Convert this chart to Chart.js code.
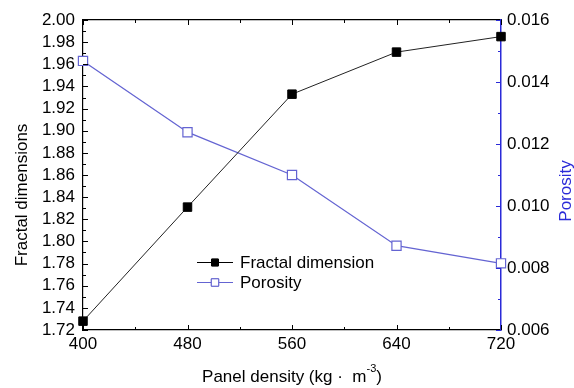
<!DOCTYPE html>
<html>
<head>
<meta charset="utf-8">
<script src="https://cdn.jsdelivr.net/npm/chart.js@4/dist/chart.umd.min.js"></script>
<style>
html,body{margin:0;padding:0;background:#fff;}
#wrap{width:574px;height:388px;}
</style>
</head>
<body>
<div id="wrap"><canvas id="c" width="574" height="388"></canvas></div>
<script>
const densities = [400, 480, 560, 640, 720];
const fractalDim = [1.728, 1.831, 1.933, 1.971, 1.985];
const porosity = [0.01468, 0.01238, 0.0110, 0.00872, 0.00815];
const xTickValues = [400, 480, 560, 640, 720];
const leftTickValues = [1.72, 1.74, 1.76, 1.78, 1.80, 1.82, 1.84, 1.86, 1.88, 1.90, 1.92, 1.94, 1.96, 1.98, 2.00];
const rightTickValues = [0.006, 0.008, 0.010, 0.012, 0.014, 0.016];
const seriesNames = ['Fractal dimension', 'Porosity'];
const axisTitles = { x: 'Panel density (kg \u00b7  m', xSup: '-3', xEnd: ')', left: 'Fractal dimensions', right: 'Porosity' };

const FONT = '"Liberation Sans", Arial, sans-serif';
const FS = 17;
const BLACK = '#000000';
const AXIS_BLUE = '#2a2ad8';
const LINE_BLUE = '#6464d2';

const minorTicks = (vals) => {
  const out = [];
  for (let i = 0; i < vals.length - 1; i++) out.push((vals[i] + vals[i + 1]) / 2);
  return out;
};

const decorPlugin = {
  id: 'decor',
  afterDraw(chart) {
    const ctx = chart.ctx;
    const ca = chart.chartArea;
    const sx = chart.scales.x, sy = chart.scales.y, sy1 = chart.scales.y1;
    ctx.save();
    ctx.lineWidth = 1;
    const drawX = (vals, len) => {
      vals.forEach(v => {
        const px = Math.round(sx.getPixelForValue(v)) + 0.5;
        ctx.strokeStyle = BLACK;
        ctx.beginPath(); ctx.moveTo(px, ca.bottom); ctx.lineTo(px, ca.bottom - len); ctx.stroke();
        ctx.beginPath(); ctx.moveTo(px, ca.top); ctx.lineTo(px, ca.top + len); ctx.stroke();
      });
    };
    drawX(xTickValues, 5); drawX(minorTicks(xTickValues), 3);
    const drawL = (vals, len) => {
      vals.forEach(v => {
        const py = Math.round(sy.getPixelForValue(v)) + 0.5;
        ctx.strokeStyle = BLACK;
        ctx.beginPath(); ctx.moveTo(ca.left, py); ctx.lineTo(ca.left + len, py); ctx.stroke();
      });
    };
    drawL(leftTickValues, 5); drawL(minorTicks(leftTickValues), 3);
    const drawR = (vals, len) => {
      vals.forEach(v => {
        const py = Math.round(sy1.getPixelForValue(v)) + 0.5;
        ctx.strokeStyle = AXIS_BLUE;
        ctx.beginPath(); ctx.moveTo(ca.right, py); ctx.lineTo(ca.right - len, py); ctx.stroke();
      });
    };
    drawR(rightTickValues, 5); drawR(minorTicks(rightTickValues), 3);

    // axis titles
    ctx.font = FS + 'px ' + FONT;
    ctx.textBaseline = 'middle';
    ctx.textAlign = 'center';
    ctx.fillStyle = BLACK;
    ctx.save();
    ctx.translate(22, (ca.top + ca.bottom) / 2 + 20);
    ctx.rotate(-Math.PI / 2);
    ctx.fillText(axisTitles.left, 0, 0);
    ctx.restore();
    ctx.save();
    ctx.fillStyle = AXIS_BLUE;
    ctx.translate(566, (ca.top + ca.bottom) / 2 + 16);
    ctx.rotate(-Math.PI / 2);
    ctx.fillText(axisTitles.right, 0, 0);
    ctx.restore();
    // x title with superscript
    ctx.textAlign = 'left';
    const w1 = ctx.measureText(axisTitles.x).width;
    const w3 = ctx.measureText(axisTitles.xEnd).width;
    ctx.font = '11px ' + FONT;
    const w2 = ctx.measureText(axisTitles.xSup).width;
    const total = w1 + w2 + w3;
    let x0 = (ca.left + ca.right) / 2 - total / 2;
    const ty = 377;
    ctx.font = FS + 'px ' + FONT;
    ctx.fillText(axisTitles.x, x0, ty);
    ctx.font = '11px ' + FONT;
    ctx.fillText(axisTitles.xSup, x0 + w1, ty - 8);
    ctx.font = FS + 'px ' + FONT;
    ctx.fillText(axisTitles.xEnd, x0 + w1 + w2, ty);

    // legend
    const items = [
      { name: seriesNames[0], color: BLACK, fill: BLACK, radius: 6 },
      { name: seriesNames[1], color: LINE_BLUE, fill: '#ffffff', radius: 6.5 }
    ];
    items.forEach((it, i) => {
      const y = 262 + i * 20;
      ctx.strokeStyle = it.color; ctx.lineWidth = 1;
      ctx.beginPath(); ctx.moveTo(197, y + 0.5); ctx.lineTo(233, y + 0.5); ctx.stroke();
      Chart.helpers.drawPoint(ctx, { pointStyle: 'rect', radius: it.radius * 0.8, borderWidth: 1 }, 215, y + 0.5);
      ctx.fillStyle = it.fill; ctx.fill();
      ctx.strokeStyle = it.color; ctx.stroke();
      ctx.fillStyle = BLACK;
      ctx.font = FS + 'px ' + FONT;
      ctx.textAlign = 'left'; ctx.textBaseline = 'middle';
      ctx.fillText(it.name, 240, y + 1);
    });
    ctx.restore();
  }
};

new Chart(document.getElementById('c'), {
  type: 'line',
  data: {
    datasets: [
      {
        label: seriesNames[0],
        data: densities.map((d, i) => ({ x: d, y: fractalDim[i] })),
        xAxisID: 'x', yAxisID: 'y',
        borderColor: '#222222', borderWidth: 1,
        pointStyle: 'rect', pointRadius: 6, pointBackgroundColor: BLACK, pointBorderColor: BLACK, pointBorderWidth: 1,
        tension: 0, clip: false
      },
      {
        label: seriesNames[1],
        data: densities.map((d, i) => ({ x: d, y: porosity[i] })),
        xAxisID: 'x', yAxisID: 'y1',
        borderColor: LINE_BLUE, borderWidth: 1.3,
        pointStyle: 'rect', pointRadius: 6.5, pointBackgroundColor: '#ffffff', pointBorderColor: LINE_BLUE, pointBorderWidth: 1.2,
        tension: 0, clip: false
      }
    ]
  },
  options: {
    responsive: false,
    animation: false,
    devicePixelRatio: 1,
    layout: { padding: 0 },
    plugins: { legend: { display: false }, tooltip: { enabled: false } },
    scales: {
      x: {
        type: 'linear', position: 'bottom', min: 400, max: 720,
        afterBuildTicks: s => { s.ticks = xTickValues.map(v => ({ value: v })); },
        ticks: { color: BLACK, font: { family: FONT, size: FS }, padding: 4, maxRotation: 0, autoSkip: false },
        grid: { display: false, drawTicks: false },
        border: { color: BLACK, width: 1.2 },
        afterFit: s => { s.height = 58; }
      },
      x2: {
        type: 'linear', position: 'top', min: 400, max: 720,
        ticks: { display: false },
        grid: { display: false, drawTicks: false },
        border: { color: BLACK, width: 1.2 },
        afterFit: s => { s.height = 20; }
      },
      y: {
        type: 'linear', position: 'left', min: 1.72, max: 2.00,
        afterBuildTicks: s => { s.ticks = leftTickValues.map(v => ({ value: v })); },
        ticks: { color: BLACK, font: { family: FONT, size: FS }, padding: 8, autoSkip: false, callback: v => Number(v).toFixed(2) },
        grid: { display: false, drawTicks: false },
        border: { color: BLACK, width: 1.2 },
        afterFit: s => { s.width = 83; }
      },
      y1: {
        type: 'linear', position: 'right', min: 0.006, max: 0.016,
        afterBuildTicks: s => { s.ticks = rightTickValues.map(v => ({ value: v })); },
        ticks: { color: BLACK, font: { family: FONT, size: FS }, padding: 6, autoSkip: false, callback: v => Number(v).toFixed(3) },
        grid: { display: false, drawTicks: false },
        border: { color: AXIS_BLUE, width: 1.5 },
        afterFit: s => { s.width = 73; }
      }
    }
  },
  plugins: [decorPlugin]
});
</script>
</body>
</html>
